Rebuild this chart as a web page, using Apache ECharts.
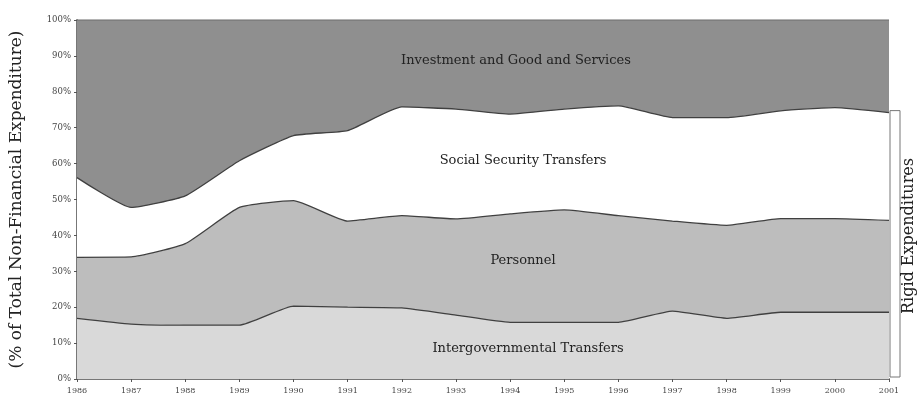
<!DOCTYPE html>
<html><head><meta charset="utf-8">
<script src="https://cdn.jsdelivr.net/npm/echarts@6/dist/echarts.min.js"></script>
<style>html,body{margin:0;padding:0;background:#fff}#c{width:921px;height:401px}</style>
</head><body><div id="c"></div>
<script>
var years = ['1986','1987','1988','1989','1990','1991','1992','1993','1994','1995','1996','1997','1998','1999','2000','2001'];
var intergovernmental = [16.9,15.3,15.0,15.0,20.3,20.0,19.8,17.8,15.8,15.8,15.8,18.9,16.9,18.6,18.6,18.6];
var personnel = [17.0,18.7,22.7,32.8,29.4,24.0,25.7,26.8,30.2,31.3,29.7,25.1,25.9,26.1,26.1,25.6];
var socialSecurity = [22.2,13.8,13.3,13.0,18.1,25.2,30.3,30.6,27.8,28.1,30.6,28.8,30.0,30.0,30.9,30.0];
var investment = [43.9,52.2,49.0,39.2,32.2,30.8,24.2,24.8,26.2,24.8,23.9,27.2,27.2,25.3,24.4,25.8];
var seriesNames = ['Intergovernmental Transfers','Personnel','Social Security Transfers','Investment and Good and Services'];
var yTicks = [0,10,20,30,40,50,60,70,80,90,100];

var serif = '"DejaVu Serif","Liberation Serif",serif';
var chart = echarts.init(document.getElementById('c'));
function mk(name, data, color, lineColor){
  return {name:name, type:'line', stack:'total', data:data, symbol:'none', smooth:0.15,
    lineStyle:{color:lineColor, width:1.3}, areaStyle:{color:color, opacity:1}, z:2};
}
chart.setOption({
  animation:false,
  backgroundColor:'#fff',
  grid:{left:75, right:32, top:20, bottom:22},
  xAxis:{type:'category', data:years, boundaryGap:false,
    axisLine:{lineStyle:{color:'#777', width:2}},
    axisTick:{show:true, length:3, lineStyle:{color:'#555'}},
    axisLabel:{fontFamily:serif, fontSize:8, color:'#444', margin:8},
    splitLine:{show:false}},
  yAxis:{type:'value', min:0, max:100, interval:10,
    name:'(% of Total Non-Financial Expenditure)', nameLocation:'middle', nameGap:52, nameRotate:90,
    nameTextStyle:{fontFamily:serif, fontSize:17, color:'#222'},
    axisLine:{show:true, lineStyle:{color:'#777', width:2}},
    axisTick:{show:true, length:3, lineStyle:{color:'#555'}},
    axisLabel:{fontFamily:serif, fontSize:8.5, color:'#444', margin:6, formatter:function(v){return yTicks.indexOf(v)>=0? v+'%':'';}},
    splitLine:{show:false}},
  series:[
    mk(seriesNames[0], intergovernmental, '#d9d9d9', '#404040'),
    mk(seriesNames[1], personnel, '#bdbdbd', '#404040'),
    mk(seriesNames[2], socialSecurity, '#ffffff', '#404040'),
    mk(seriesNames[3], investment, '#8f8f8f', '#7a7a7a')
  ]
});

var lastIdx = years.length - 1;
var rigidTop = intergovernmental[lastIdx] + personnel[lastIdx] + socialSecurity[lastIdx];
var pTop = chart.convertToPixel({gridIndex:0}, [lastIdx, rigidTop]);
var pBot = chart.convertToPixel({gridIndex:0}, [lastIdx, 0]);
var txt = {fontFamily:serif, fontSize:13, fill:'#222'};
function label(text, cx, cy){
  return {type:'text', x:cx, y:cy, style:Object.assign({text:text, textAlign:'center', textVerticalAlign:'middle'}, txt), z:10};
}
chart.setOption({graphic:[
  label(seriesNames[3], 516, 61),
  label(seriesNames[2], 523, 161),
  label(seriesNames[1], 523, 261),
  label(seriesNames[0], 528, 349),
  {type:'rect', shape:{x:pTop[0]+1, y:pTop[1]-2, width:10, height:pBot[1]-pTop[1]}, style:{fill:'#fff', stroke:'#777', lineWidth:1}, z:1},
  {type:'text', x:909, y:236, rotation:Math.PI/2, style:{text:'Rigid Expenditures', textAlign:'center', textVerticalAlign:'middle', fontFamily:serif, fontSize:16, fill:'#222'}, z:10}
]});
</script></body></html>
